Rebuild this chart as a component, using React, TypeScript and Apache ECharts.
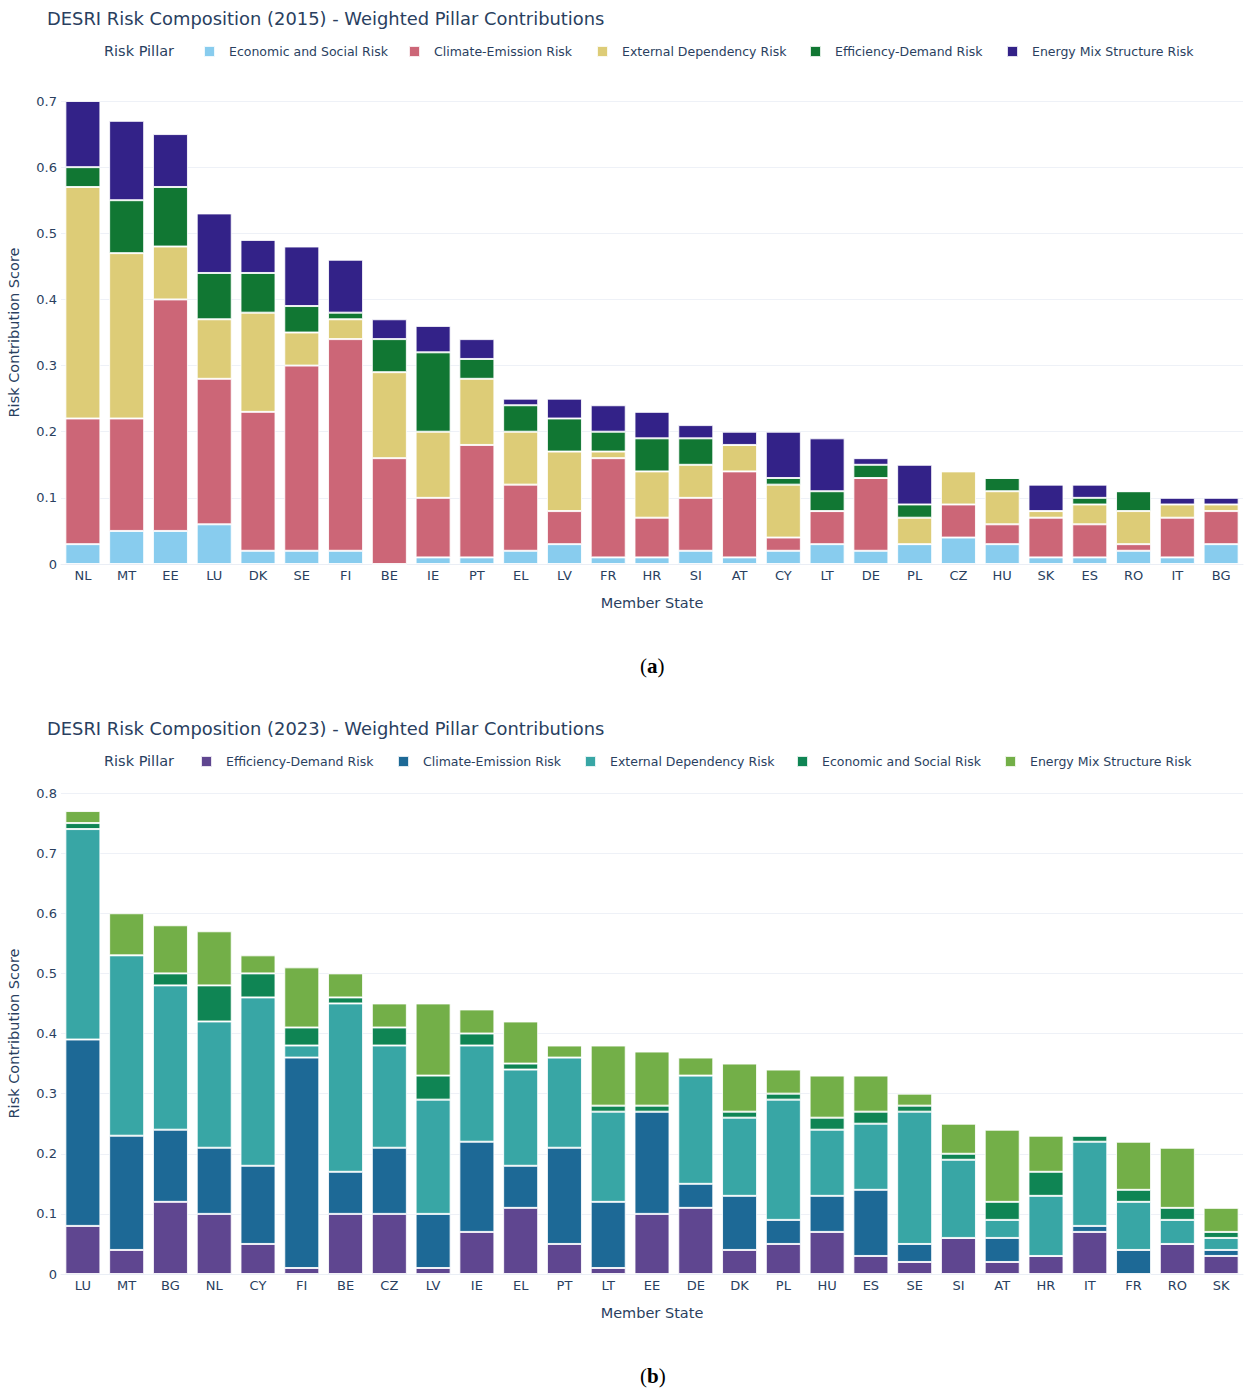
import React, { useEffect, useRef } from 'react';
import * as echarts from 'echarts';

// ---- 2015 data ----
const states2015 = ['NL', 'MT', 'EE', 'LU', 'DK', 'SE', 'FI', 'BE', 'IE', 'PT', 'EL', 'LV', 'FR', 'HR', 'SI', 'AT', 'CY', 'LT', 'DE', 'PL', 'CZ', 'HU', 'SK', 'ES', 'RO', 'IT', 'BG'];
const econ2015 = [0.03, 0.05, 0.05, 0.06, 0.02, 0.02, 0.02, 0, 0.01, 0.01, 0.02, 0.03, 0.01, 0.01, 0.02, 0.01, 0.02, 0.03, 0.02, 0.03, 0.04, 0.03, 0.01, 0.01, 0.02, 0.01, 0.03];
const climate2015 = [0.19, 0.17, 0.35, 0.22, 0.21, 0.28, 0.32, 0.16, 0.09, 0.17, 0.10, 0.05, 0.15, 0.06, 0.08, 0.13, 0.02, 0.05, 0.11, 0, 0.05, 0.03, 0.06, 0.05, 0.01, 0.06, 0.05];
const external2015 = [0.35, 0.25, 0.08, 0.09, 0.15, 0.05, 0.03, 0.13, 0.10, 0.10, 0.08, 0.09, 0.01, 0.07, 0.05, 0.04, 0.08, 0, 0, 0.04, 0.05, 0.05, 0.01, 0.03, 0.05, 0.02, 0.01];
const efficiency2015 = [0.03, 0.08, 0.09, 0.07, 0.06, 0.04, 0.01, 0.05, 0.12, 0.03, 0.04, 0.05, 0.03, 0.05, 0.04, 0, 0.01, 0.03, 0.02, 0.02, 0, 0.02, 0, 0.01, 0.03, 0, 0];
const energyMix2015 = [0.10, 0.12, 0.08, 0.09, 0.05, 0.09, 0.08, 0.03, 0.04, 0.03, 0.01, 0.03, 0.04, 0.04, 0.02, 0.02, 0.07, 0.08, 0.01, 0.06, 0, 0, 0.04, 0.02, 0, 0.01, 0.01];

// ---- 2023 data ----
const states2023 = ['LU', 'MT', 'BG', 'NL', 'CY', 'FI', 'BE', 'CZ', 'LV', 'IE', 'EL', 'PT', 'LT', 'EE', 'DE', 'DK', 'PL', 'HU', 'ES', 'SE', 'SI', 'AT', 'HR', 'IT', 'FR', 'RO', 'SK'];
const efficiency2023 = [0.08, 0.04, 0.12, 0.10, 0.05, 0.01, 0.10, 0.10, 0.01, 0.07, 0.11, 0.05, 0.01, 0.10, 0.11, 0.04, 0.05, 0.07, 0.03, 0.02, 0.06, 0.02, 0.03, 0.07, 0, 0.05, 0.03];
const climate2023 = [0.31, 0.19, 0.12, 0.11, 0.13, 0.35, 0.07, 0.11, 0.09, 0.15, 0.07, 0.16, 0.11, 0.17, 0.04, 0.09, 0.04, 0.06, 0.11, 0.03, 0, 0.04, 0, 0.01, 0.04, 0, 0.01];
const external2023 = [0.35, 0.30, 0.24, 0.21, 0.28, 0.02, 0.28, 0.17, 0.19, 0.16, 0.16, 0.15, 0.15, 0, 0.18, 0.13, 0.20, 0.11, 0.11, 0.22, 0.13, 0.03, 0.10, 0.14, 0.08, 0.04, 0.02];
const econ2023 = [0.01, 0, 0.02, 0.06, 0.04, 0.03, 0.01, 0.03, 0.04, 0.02, 0.01, 0, 0.01, 0.01, 0, 0.01, 0.01, 0.02, 0.02, 0.01, 0.01, 0.03, 0.04, 0.01, 0.02, 0.02, 0.01];
const energyMix2023 = [0.02, 0.07, 0.08, 0.09, 0.03, 0.10, 0.04, 0.04, 0.12, 0.04, 0.07, 0.02, 0.10, 0.09, 0.03, 0.08, 0.04, 0.07, 0.06, 0.02, 0.05, 0.12, 0.06, 0, 0.08, 0.10, 0.04];

const yTicks = [0, 0.1, 0.2, 0.3, 0.4, 0.5, 0.6, 0.7, 0.8];

interface Pillar {
  name: string;
  color: string;
  values: number[];
}

interface PanelProps {
  title: string;
  caption: string;
  states: string[];
  pillars: Pillar[];
  yMax: number;
  gridTop: number;
  legendLefts: number[];
  top: number;
  height: number;
}

const textColor = '#2a3f5f';
const font = 'DejaVu Sans';

const Panel: React.FC<PanelProps> = ({ title, caption, states, pillars, yMax, gridTop, legendLefts, top, height }) => {
  const chartRef = useRef<HTMLDivElement>(null);

  useEffect(() => {
    if (!chartRef.current) return;
    const chart = echarts.init(chartRef.current, undefined, { renderer: 'svg' });

    const option: echarts.EChartsOption = {
      animation: false,
      backgroundColor: '#fff',
      textStyle: { fontFamily: font },
      title: {
        text: title,
        left: 42,
        top: 4,
        textStyle: { fontSize: 17.9, fontWeight: 'normal', color: textColor, fontFamily: font },
      },
      legend: pillars.map((p, i) => ({
        data: [p.name],
        left: legendLefts[i],
        top: 45,
        padding: 0,
        icon: 'rect',
        itemWidth: 11,
        itemHeight: 11,
        itemGap: 0,
        selectedMode: false,
        textStyle: { fontSize: 12.5, color: textColor, fontFamily: font, padding: [0, 0, 0, 9] },
      })),
      graphic: [
        {
          type: 'text',
          left: 104,
          top: 43,
          style: { text: 'Risk Pillar', fontSize: 14.5, fill: textColor, fontFamily: font },
        },
        {
          type: 'text',
          left: 640,
          top: 655,
          style: {
            text: '({b|' + caption + '})',
            fontSize: 21,
            fill: '#000',
            fontFamily: 'Liberation Serif',
            rich: { b: { fontSize: 21, fontWeight: 'bold', fontFamily: 'Liberation Serif', fill: '#000' } },
          },
        },
      ],
      grid: { left: 61, right: 7, top: gridTop, bottom: height - 564, containLabel: false, outerBoundsMode: 'none' } as any,
      xAxis: {
        type: 'category',
        data: states,
        name: 'Member State',
        nameLocation: 'middle',
        nameGap: 31,
        nameTextStyle: { fontSize: 14.5, color: textColor },
        axisLine: { show: true, lineStyle: { color: '#eaeef5' } },
        axisTick: { show: false },
        axisLabel: { fontSize: 13, color: textColor, margin: 5 },
      },
      yAxis: {
        type: 'value',
        min: 0,
        max: yMax,
        interval: 0.1,
        name: 'Risk Contribution Score',
        nameLocation: 'middle',
        nameGap: 40,
        nameTextStyle: { fontSize: 14.5, color: textColor },
        axisLabel: {
          fontSize: 13,
          color: textColor,
          margin: 4,
          formatter: (v: number) => {
            const t = yTicks.find((x) => Math.abs(x - v) < 1e-6);
            return t === undefined ? '' : String(t);
          },
        },
        splitLine: { lineStyle: { color: '#eef1f7' } },
      },
      series: pillars.map((p) => ({
        name: p.name,
        type: 'bar',
        stack: 'total',
        barCategoryGap: '20%',
        data: p.values,
        itemStyle: { color: p.color, borderColor: 'rgba(255,255,255,0.85)', borderWidth: 1 },
      })),
    };

    chart.setOption(option);
    return () => chart.dispose();
  }, [title, caption, states, pillars, yMax, gridTop, legendLefts, height]);

  return <div ref={chartRef} style={{ position: 'absolute', left: 0, top, width: 1250, height }} />;
};

const pillars2015: Pillar[] = [
  { name: 'Economic and Social Risk', color: '#88CCEE', values: econ2015 },
  { name: 'Climate-Emission Risk', color: '#CC6677', values: climate2015 },
  { name: 'External Dependency Risk', color: '#DDCC77', values: external2015 },
  { name: 'Efficiency-Demand Risk', color: '#117733', values: efficiency2015 },
  { name: 'Energy Mix Structure Risk', color: '#332288', values: energyMix2015 },
];

const pillars2023: Pillar[] = [
  { name: 'Efficiency-Demand Risk', color: '#5F4690', values: efficiency2023 },
  { name: 'Climate-Emission Risk', color: '#1D6996', values: climate2023 },
  { name: 'External Dependency Risk', color: '#38A6A5', values: external2023 },
  { name: 'Economic and Social Risk', color: '#0F8554', values: econ2023 },
  { name: 'Energy Mix Structure Risk', color: '#73AF48', values: energyMix2023 },
];

const App: React.FC = () => (
  <div style={{ position: 'absolute', left: 0, top: 0, width: 1250, height: 1397, background: '#fff' }}>
    <Panel
      title="DESRI Risk Composition (2015) - Weighted Pillar Contributions"
      caption="a"
      states={states2015}
      pillars={pillars2015}
      yMax={0.7}
      gridTop={101}
      legendLefts={[203, 408, 596, 809, 1006]}
      top={0}
      height={700}
    />
    <Panel
      title="DESRI Risk Composition (2023) - Weighted Pillar Contributions"
      caption="b"
      states={states2023}
      pillars={pillars2023}
      yMax={0.8}
      gridTop={83}
      legendLefts={[200, 397, 584, 796, 1004]}
      top={710}
      height={687}
    />
  </div>
);

export default App;
